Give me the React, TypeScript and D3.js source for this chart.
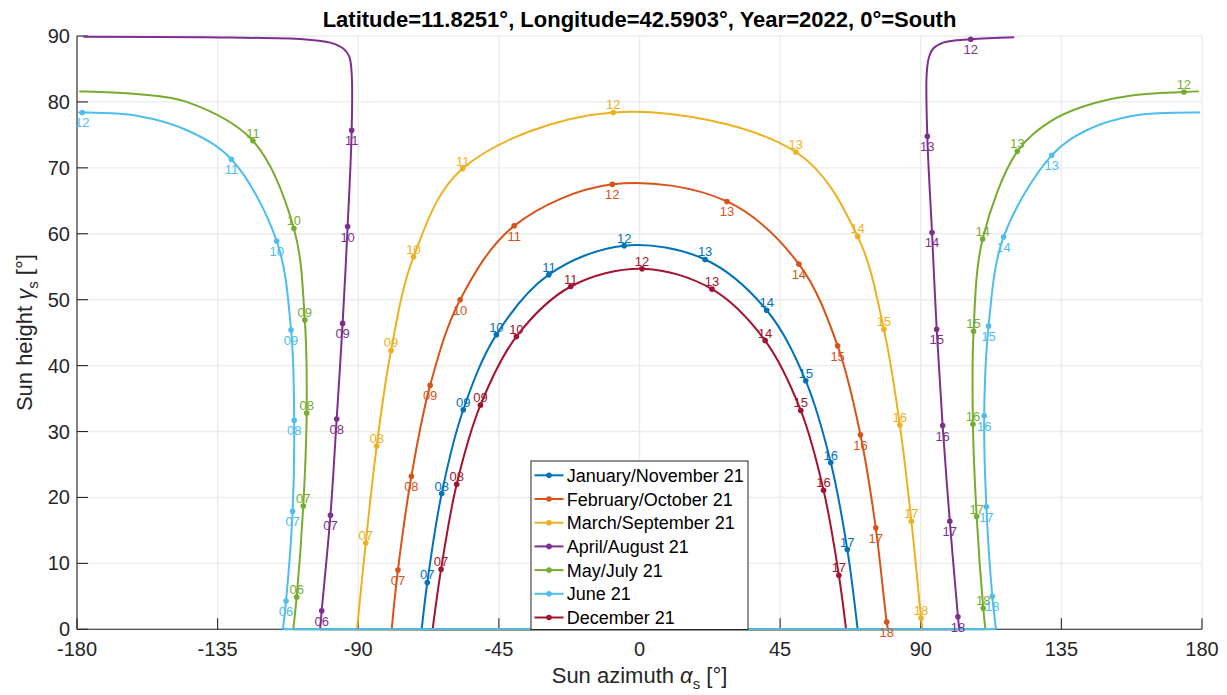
import React from 'react';
import * as d3 from 'd3';

// [azimuth, height, hour label]; null breaks the line where the azimuth wraps
type Pt = [number, number, string] | null;

const seriesNames = [
  'January/November 21',
  'February/October 21',
  'March/September 21',
  'April/August 21',
  'May/July 21',
  'June 21',
  'December 21',
];
const seriesColors = ['#0072BD', '#D95319', '#EDB120', '#7E2F8E', '#77AC30', '#4DBEEE', '#A2142F'];

const janNov: Pt[] = [
  [-69.7, 0, ''], [-67.9, 7.1, '07'], [-63.3, 20.6, '08'], [-56.4, 33.3, '09'], [-45.8, 44.7, '10'],
  [-29.0, 53.8, '11'], [-4.9, 58.2, '12'], [21.0, 56.1, '13'], [40.7, 48.4, '14'], [53.2, 37.7, '15'],
  [61.2, 25.3, '16'], [66.5, 12.1, '17'], [69.8, 0, ''],
];
const febOct: Pt[] = [
  [-79.3, 0, ''], [-77.3, 9.0, '07'], [-73.0, 23.2, '08'], [-67.0, 37.0, '09'], [-57.4, 50.0, '10'],
  [-40.1, 61.2, '11'], [-8.7, 67.5, '12'], [28.0, 64.9, '13'], [51.0, 55.4, '14'], [63.4, 43.0, '15'],
  [70.7, 29.5, '16'], [75.6, 15.4, '17'], [79.1, 1.1, '18'], [79.5, 0, ''],
];
const marSep: Pt[] = [
  [-90.4, 0, ''], [-87.6, 13.1, '07'], [-84.1, 27.8, '08'], [-79.5, 42.3, '09'], [-72.3, 56.5, '10'],
  [-56.6, 69.9, '11'], [-8.4, 78.4, '12'], [50.0, 72.4, '13'], [69.8, 59.6, '14'], [78.2, 45.5, '15'],
  [83.3, 31.0, '16'], [87.0, 16.4, '17'], [90.1, 1.7, '18'], [90.5, 0, ''],
];
const aprAug: Pt[] = [
  [-102.2, 0, ''], [-101.7, 2.8, '06'], [-98.9, 17.3, '07'], [-96.9, 31.9, '08'], [-95.0, 46.4, '09'],
  [-93.4, 61.1, '10'], [-92.1, 75.7, '11'], [-92.1, 84.3, ''], [-92.9, 86.9, ''], [-94.8, 88.1, ''],
  [-99.0, 89.0, ''], [-107.6, 89.5, ''], [-139.6, 89.8, ''], [-178.0, 89.9, ''],
  null,
  [119.9, 89.8, ''], [106.0, 89.5, '12'], [97.2, 89.0, ''], [94.0, 88.1, ''], [92.7, 86.9, ''],
  [91.9, 84.3, ''], [92.1, 74.8, '13'], [93.6, 60.2, '14'], [95.1, 45.5, '15'], [97.0, 30.9, '16'],
  [99.3, 16.4, '17'], [101.9, 1.9, '18'], [102.3, 0, ''],
];
const mayJul: Pt[] = [
  [-110.8, 0, ''], [-109.7, 4.9, '06'], [-107.6, 18.7, '07'], [-106.5, 32.8, '08'], [-107.1, 46.9, '09'],
  [-110.6, 60.8, '10'], [-123.7, 74.1, '11'], [-144.9, 80.0, ''], [-160.9, 81.2, ''],
  [-179.3, 81.6, ''],
  null,
  [179.0, 81.6, ''], [174.2, 81.5, '12'], [158.0, 81.0, ''], [142.0, 79.3, ''], [131.4, 77.0, ''],
  [120.9, 72.5, '13'], [109.8, 59.2, '14'], [106.9, 45.2, '15'], [106.7, 31.1, '16'], [107.9, 17.1, '17'],
  [110.0, 3.2, '18'], [110.7, 0, ''],
];
const jun: Pt[] = [
  [-114.1, 0, ''], [-113.1, 4.3, '06'], [-111.0, 17.9, '07'], [-110.5, 31.7, '08'], [-111.5, 45.4, '09'],
  [-116.1, 58.9, '10'], [-130.6, 71.3, '11'], [-144.8, 75.7, ''], [-160.9, 77.9, ''], [-178.3, 78.4, '12'],
  [-179.6, 78.4, ''],
  null,
  [179.4, 78.4, ''], [158.0, 77.9, ''], [143.1, 75.7, ''], [131.9, 71.9, '13'], [116.5, 59.5, '14'],
  [111.7, 46.0, '15'], [110.3, 32.4, '16'], [111.0, 18.6, '17'], [112.9, 5.0, '18'], [114.1, 0, ''],
];
const dec: Pt[] = [
  [-66.2, 0, ''], [-63.5, 9.1, '07'], [-58.5, 22.0, '08'], [-50.9, 34.0, '09'], [-39.4, 44.4, '10'],
  [-22.0, 52.0, '11'], [0.8, 54.7, '12'], [23.2, 51.6, '13'], [40.2, 43.8, '14'], [51.6, 33.2, '15'],
  [58.9, 21.1, '16'], [63.8, 8.2, '17'], [66.1, 0, ''],
];

const tracks = [janNov, febOct, marSep, aprAug, mayJul, jun, dec];

const xTicks = [-180, -135, -90, -45, 0, 45, 90, 135, 180];
const yTicks = [0, 10, 20, 30, 40, 50, 60, 70, 80, 90];

const titleText = 'Latitude=11.8251°, Longitude=42.5903°, Year=2022, 0°=South';

const FONT = '"Liberation Sans", Arial, Helvetica, sans-serif';
const AXIS = '#262626';

export default function App() {
  const left = 77, right = 1202, top = 36, bottom = 629.3;
  const x = d3.scaleLinear().domain([-180, 180]).range([left, right]);
  const y = d3.scaleLinear().domain([0, 90]).range([bottom, top]);

  const line = d3.line<Pt>()
    .defined(d => d !== null)
    .x(d => x(d![0]))
    .y(d => y(d![1]))
    .curve(d3.curveCatmullRom.alpha(0.5));

  // horizon line from sunrise to sunset; widest (June) ends up on top
  const horizon = tracks
    .map((t, i) => ({ i, from: t[0]![0], to: t[t.length - 1]![0] }))
    .sort((a, b) => (b.from - b.to) - (a.from - a.to));

  const tickLen = 11;

  return (
    <svg width={1227} height={695} style={{ position: 'absolute', left: 0, top: 0, background: '#fff' }}
      fontFamily={FONT}>
      <rect width={1227} height={695} fill="#fff" />

      {/* grid */}
      {xTicks.map(t => (
        <line key={'gx' + t} x1={x(t)} x2={x(t)} y1={top} y2={bottom} stroke="#ebebeb" strokeWidth={1.4} />
      ))}
      {yTicks.map(t => (
        <line key={'gy' + t} x1={left} x2={right} y1={y(t)} y2={y(t)} stroke="#ebebeb" strokeWidth={1.4} />
      ))}

      {/* axes */}
      <line x1={left} x2={left} y1={top} y2={bottom} stroke={AXIS} strokeWidth={1.1} />
      <line x1={left} x2={right} y1={bottom} y2={bottom} stroke={AXIS} strokeWidth={1.1} />
      {xTicks.map(t => (
        <g key={'tx' + t}>
          <line x1={x(t)} x2={x(t)} y1={bottom} y2={bottom - tickLen} stroke={AXIS} strokeWidth={1.1} />
          <text x={x(t)} y={656} textAnchor="middle" fontSize={20} fill={AXIS}>{t}</text>
        </g>
      ))}
      {yTicks.map(t => (
        <g key={'ty' + t}>
          <line x1={left} x2={left + tickLen} y1={y(t)} y2={y(t)} stroke={AXIS} strokeWidth={1.1} />
          <text x={70} y={y(t) + 7} textAnchor="end" fontSize={20} fill={AXIS}>{t}</text>
        </g>
      ))}

      {/* sun paths */}
      {tracks.map((t, i) => (
        <path key={'p' + i} d={line(t) || ''} fill="none" stroke={seriesColors[i]} strokeWidth={2} />
      ))}
      {horizon.map(h => (
        <line key={'h' + h.i} x1={x(h.from)} x2={x(h.to)} y1={y(0)} y2={y(0)}
          stroke={seriesColors[h.i]} strokeWidth={2} />
      ))}
      {tracks.map((t, i) => (
        <g key={'m' + i} fill={seriesColors[i]}>
          {t.filter(d => d !== null && d[2] !== '').map((d, j) => (
            <g key={j}>
              <circle cx={x(d![0])} cy={y(d![1])} r={2.8} />
              <text x={x(d![0])} y={y(d![1]) + (i % 2 === 0 ? -3 : 15)} textAnchor="middle" fontSize={13}>
                {d![2]}
              </text>
            </g>
          ))}
        </g>
      ))}

      {/* legend */}
      <rect x={531} y={461} width={217} height={168.5} fill="#fff" stroke={AXIS} strokeWidth={1} />
      {seriesNames.map((n, i) => {
        const ly = 475.3 + i * 23.7;
        return (
          <g key={'l' + i}>
            <line x1={534.5} x2={563.5} y1={ly} y2={ly} stroke={seriesColors[i]} strokeWidth={2} />
            <circle cx={549} cy={ly} r={2.8} fill={seriesColors[i]} />
            <text x={566.7} y={ly + 6.5} fontSize={18} fill="#000">{n}</text>
          </g>
        );
      })}

      {/* title and labels */}
      <text x={(left + right) / 2} y={26.5} textAnchor="middle" fontSize={22} fontWeight="bold" fill="#000">
        {titleText}
      </text>
      <text x={(left + right) / 2} y={683} textAnchor="middle" fontSize={22} fill={AXIS}>
        Sun azimuth <tspan fontStyle="italic">α</tspan>
        <tspan fontSize={15} dy={6}>s</tspan>
        <tspan dy={-6}> [°]</tspan>
      </text>
      <text transform={`translate(32,${(top + bottom) / 2}) rotate(-90)`} textAnchor="middle" fontSize={22} fill={AXIS}>
        Sun height <tspan fontStyle="italic">γ</tspan>
        <tspan fontSize={15} dy={6}>s</tspan>
        <tspan dy={-6}> [°]</tspan>
      </text>
    </svg>
  );
}
